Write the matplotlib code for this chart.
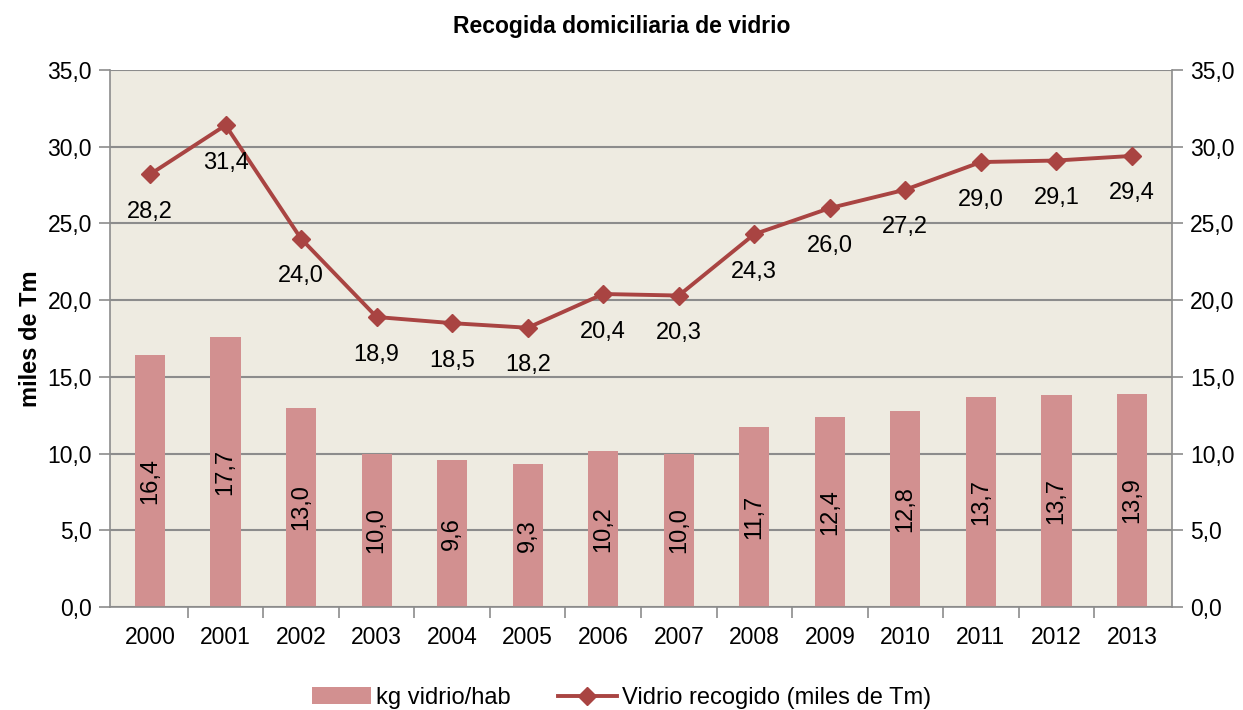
import matplotlib
matplotlib.use("Agg")
import matplotlib.pyplot as plt
from matplotlib.ticker import FuncFormatter, MultipleLocator
from matplotlib import font_manager

# Font: narrow sans if available
names = {f.name for f in font_manager.fontManager.ttflist}
if "Liberation Sans Narrow" in names:
    plt.rcParams['font.family'] = ['Liberation Sans Narrow', 'DejaVu Sans']
else:
    plt.rcParams['font.family'] = ['Liberation Sans', 'DejaVu Sans']

# Data
years = ["2000", "2001", "2002", "2003", "2004", "2005", "2006",
         "2007", "2008", "2009", "2010", "2011", "2012", "2013"]
kg_hab = [16.4, 17.6, 13.0, 10.0, 9.6, 9.3, 10.2, 10.0, 11.7, 12.4, 12.8, 13.7, 13.8, 13.9]
kg_hab_labels = ["16,4", "17,7", "13,0", "10,0", "9,6", "9,3", "10,2",
                 "10,0", "11,7", "12,4", "12,8", "13,7", "13,7", "13,9"]
vidrio = [28.2, 31.4, 24.0, 18.9, 18.5, 18.2, 20.4, 20.3, 24.3, 26.0, 27.2, 29.0, 29.1, 29.4]

bar_color = "#D29090"
line_color = "#A94442"
grid_color = "#8C8C8C"

fig = plt.figure(figsize=(12.43, 7.10), dpi=100)
ax = fig.add_axes([110/1243, 1 - 607/710, (1172 - 110)/1243, (607 - 70)/710])
ax.set_facecolor("#EEEBE1")

x = list(range(len(years)))
bars = ax.bar(x, kg_hab, width=0.4, color=bar_color, zorder=2, label="kg vidrio/hab")
line, = ax.plot(x, vidrio, color=line_color, lw=2.8, marker="D", markersize=9,
                zorder=3, label="Vidrio recogido (miles de Tm)")

for xi, v, lab in zip(x, kg_hab, kg_hab_labels):
    ax.text(xi, v / 2, lab, rotation=90, ha="center", va="center", fontsize=17, zorder=4)

for xi, v in zip(x, vidrio):
    ax.annotate(f"{v:.1f}".replace(".", ","), (xi, v), xytext=(0, -27),
                textcoords="offset points", ha="center", va="center", fontsize=17, zorder=4)

ax.set_xlim(-0.53, 13.53)
ax.set_ylim(0, 35)
ax.yaxis.set_major_locator(MultipleLocator(5))
fmt = FuncFormatter(lambda v, p: f"{v:.1f}".replace(".", ","))
ax.yaxis.set_major_formatter(fmt)
ax.set_xticks(x)
ax.set_xticklabels(years)
ax.set_xticks([i + 0.5 for i in x[:-1]], minor=True)
ax.tick_params(axis="x", which="major", length=0, labelsize=16.5, pad=14)
ax.tick_params(axis="x", which="minor", length=8, color=grid_color, width=1.2)
ax.tick_params(axis="y", length=8, color=grid_color, width=1.2, labelsize=16.5, pad=5)
ax.grid(axis="y", color=grid_color, lw=1.5, zorder=1)
for s in ax.spines.values():
    s.set_color(grid_color)
    s.set_linewidth(1.2)
ax.spines["top"].set_visible(False)

ax2 = ax.twinx()
ax2.set_ylim(0, 35)
ax2.yaxis.set_major_locator(MultipleLocator(5))
ax2.yaxis.set_major_formatter(fmt)
ax2.tick_params(axis="y", length=8, color=grid_color, width=1.2, labelsize=16.5, pad=5)
for s in ax2.spines.values():
    s.set_visible(False)

ax.set_ylabel("miles de Tm", fontsize=17, fontweight="bold", labelpad=4)
fig.text(0.5, 0.962, "Recogida domiciliaria de vidrio", ha="center", va="center",
         fontsize=16.5, fontweight="bold")

fig.legend(handles=[bars, line], loc="center", bbox_to_anchor=(0.5, 0.017), ncol=2,
           frameon=False, fontsize=17, handlelength=2.5, columnspacing=2.0, handletextpad=0.2)

fig.savefig("out.png", dpi=100)
